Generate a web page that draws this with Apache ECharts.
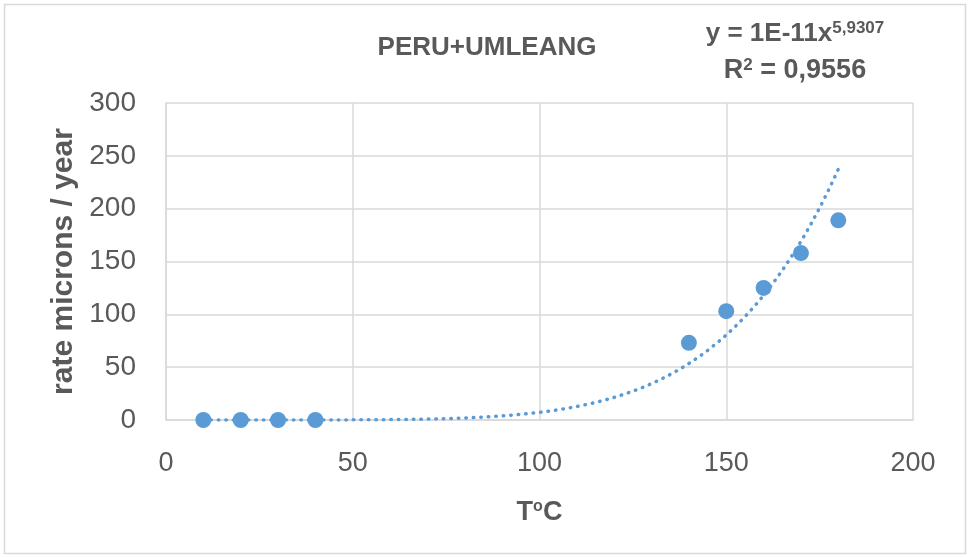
<!DOCTYPE html>
<html>
<head>
<meta charset="utf-8">
<script src="https://cdn.jsdelivr.net/npm/echarts@6/dist/echarts.min.js"></script>
<style>
  html, body { margin: 0; padding: 0; background: #fff; }
  #chart { width: 970px; height: 558px; }
</style>
</head>
<body>
<div id="chart"></div>
<script>
// Measured corrosion rate against temperature
const temperatures = [10, 20, 30, 40, 140, 150, 160, 170, 180];
const rates = [0, 0, 0, 0, 73, 103, 125, 158, 189];

// Power-law trendline y = a * x^b as reported on the chart
const trendCoef = 1e-11;
const trendExp = 5.9307;
const trendRSquared = '0,9556';
const trendFrom = 10;
const trendTo = 180;

const xTicks = [0, 50, 100, 150, 200];
const yTicks = [0, 50, 100, 150, 200, 250, 300];

const trendPoints = [];
for (let x = trendFrom; x <= trendTo; x += 1) {
  trendPoints.push([x, trendCoef * Math.pow(x, trendExp)]);
}

const FONT = '"Liberation Sans", Arial, sans-serif';
const GREY = '#595959';
const BLUE = '#5B9BD5';
const GRID = '#d9d9d9';

const chart = echarts.init(document.getElementById('chart'));
chart.setOption({
  animation: false,
  backgroundColor: '#fff',
  textStyle: { fontFamily: FONT },
  grid: { left: 166, right: 57, top: 103, bottom: 138 },
  graphic: [
    {
      type: 'rect',
      shape: { x: 4.5, y: 4.5, width: 961, height: 549 },
      style: { fill: 'none', stroke: GRID, lineWidth: 1.5 },
      silent: true
    },
    {
      type: 'text',
      style: {
        text: 'PERU+UMLEANG',
        x: 487, y: 48,
        align: 'center', verticalAlign: 'middle',
        font: 'bold 26px ' + FONT,
        fill: GREY
      }
    },
    {
      type: 'text',
      style: {
        x: 795, y: 34,
        align: 'center', verticalAlign: 'middle',
        text: '{b|y = 1E-11x}{s|' + String(trendExp).replace('.', ',') + '}',
        rich: {
          b: { font: 'bold 26px ' + FONT, fill: GREY },
          s: { font: 'bold 17px ' + FONT, fill: GREY, verticalAlign: 'top', padding: [0, 0, 12, 0] }
        }
      }
    },
    {
      type: 'text',
      style: {
        x: 795, y: 71,
        align: 'center', verticalAlign: 'middle',
        text: '{b|R}{s|2}{b| = ' + trendRSquared + '}',
        rich: {
          b: { font: 'bold 27px ' + FONT, fill: GREY },
          s: { font: 'bold 17px ' + FONT, fill: GREY, verticalAlign: 'top', padding: [0, 0, 12, 0] }
        }
      }
    }
  ],
  xAxis: {
    type: 'value',
    min: xTicks[0],
    max: xTicks[xTicks.length - 1],
    interval: xTicks[1] - xTicks[0],
    name: '{t|T}{o|o}{t|C}',
    nameLocation: 'middle',
    nameGap: 79,
    nameTextStyle: {
      rich: {
        t: { fontFamily: FONT, fontWeight: 'bold', fontSize: 27, color: GREY },
        o: { fontFamily: FONT, fontWeight: 'bold', fontSize: 16, color: GREY, verticalAlign: 'top', padding: [0, 0, 12, 0] }
      }
    },
    axisLine: { show: true, lineStyle: { color: GRID, width: 1.5 } },
    axisTick: { show: false },
    axisLabel: { color: GREY, fontSize: 27, fontFamily: FONT, margin: 30 },
    splitLine: { show: true, lineStyle: { color: GRID, width: 1.5 } }
  },
  yAxis: {
    type: 'value',
    min: yTicks[0],
    max: yTicks[yTicks.length - 1],
    interval: yTicks[1] - yTicks[0],
    name: 'rate microns / year',
    nameLocation: 'middle',
    nameGap: 87,
    nameTextStyle: { color: GREY, fontSize: 30, fontWeight: 'bold', fontFamily: FONT },
    axisLine: { show: true, lineStyle: { color: GRID, width: 1.5 } },
    axisTick: { show: false },
    axisLabel: { color: GREY, fontSize: 28, fontFamily: FONT, margin: 30 },
    splitLine: { show: true, lineStyle: { color: GRID, width: 1.5 } }
  },
  series: [
    {
      name: 'trend',
      type: 'line',
      data: trendPoints,
      showSymbol: false,
      smooth: false,
      lineStyle: { color: BLUE, width: 3.5, type: [0.5, 7], cap: 'round' },
      z: 2,
      silent: true
    },
    {
      name: 'rate',
      type: 'scatter',
      data: temperatures.map((t, i) => [t, rates[i]]),
      symbol: 'circle',
      symbolSize: 16,
      itemStyle: { color: BLUE, opacity: 1 },
      z: 3
    }
  ]
});
</script>
</body>
</html>
